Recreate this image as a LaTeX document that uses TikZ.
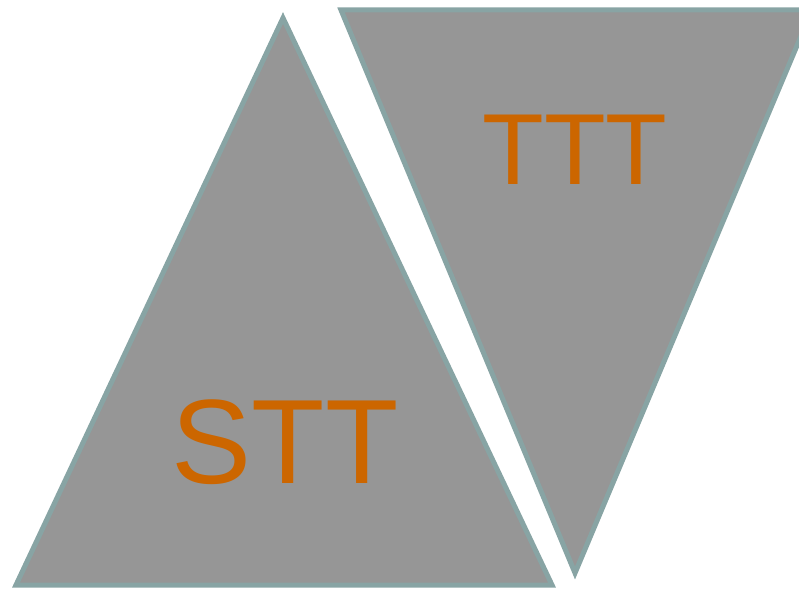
\documentclass[tikz,border=0pt]{standalone}
\usepackage{fontspec}
\setmainfont{Liberation Sans}
\usetikzlibrary{positioning}
\definecolor{TRFill}{HTML}{969696}
\definecolor{TREdge}{HTML}{88A4A4}
\definecolor{TRText}{HTML}{CC6600}
\tikzset{
  tri/.style={draw=TREdge,fill=TRFill,line width=5pt,line join=miter},
  trilabel/.style={text=TRText,inner sep=0pt},
}

\begin{document}
\begin{tikzpicture}[x=1pt,y=-1pt]
    \useasboundingbox (0,0) rectangle (799,588);
    \draw[tri] (283,18)--(16,585)--(552,585)--cycle;
    \draw[tri] (341,10)--(812,10)--(575,573)--cycle;

    \node[trilabel,font=\fontsize{120}{120}\selectfont] (stt) at (285,442) {STT};
    \node[trilabel,font=\fontsize{101}{101}\selectfont] (ttt) at (575,150) {TTT};
  \end{tikzpicture}
\end{document}
